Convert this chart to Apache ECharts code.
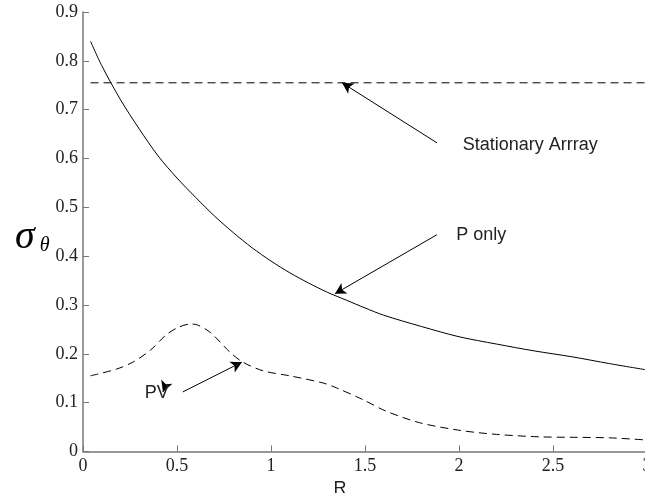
<!DOCTYPE html>
<html>
<head>
<meta charset="utf-8">
<script src="https://cdn.jsdelivr.net/npm/echarts@6/dist/echarts.min.js"></script>
<style>
  html, body { margin: 0; padding: 0; background: #fff; }
  #chart { width: 645px; height: 493px; }
</style>
</head>
<body>
<div id="chart"></div>
<script>
// values (x = R)
const pOnlyR = [0.04, 0.1, 0.2, 0.3, 0.4, 0.5, 0.6, 0.7, 0.8, 0.9, 1.0, 1.1, 1.2, 1.3, 1.4, 1.5, 1.6, 1.8, 2.0, 2.2, 2.4, 2.6, 2.8, 3.0]
const pOnlyVal = [0.84, 0.79, 0.72, 0.66, 0.605, 0.56, 0.52, 0.482, 0.448, 0.417, 0.39, 0.366, 0.345, 0.326, 0.31, 0.294, 0.279, 0.256, 0.235, 0.22, 0.206, 0.194, 0.18, 0.167]

const pvR = [0.04, 0.18, 0.27, 0.36, 0.44, 0.5, 0.57, 0.61, 0.68, 0.78, 0.85, 0.96, 1.1, 1.28, 1.35, 1.49, 1.61, 1.79, 2.01, 2.2, 2.43, 2.63, 2.8, 2.98]
const pvVal = [0.155, 0.169, 0.184, 0.208, 0.238, 0.253, 0.261, 0.259, 0.243, 0.204, 0.183, 0.165, 0.155, 0.14, 0.13, 0.106, 0.083, 0.059, 0.043, 0.035, 0.03, 0.029, 0.028, 0.024]

const stationaryR = [0.04, 3.0]
const stationaryVal = [0.755, 0.755]

const xTicks = [0, 0.5, 1, 1.5, 2, 2.5, 3]
const yTicks = [0, 0.1, 0.2, 0.3, 0.4, 0.5, 0.6, 0.7, 0.8, 0.9]

// annotation arrows [tail, tip] and labels, in data units
const arrows = [
    [[1.883, 0.632], [1.378, 0.755]],
    [[1.883, 0.444], [1.34, 0.323]],
    [[0.531, 0.122], [0.845, 0.183]],
    [[0.435, 0.132], [0.425, 0.122]]
]
const notes = [
    { text: 'Stationary Arrray', at: [2.02, 0.628] },
    { text: 'P only', at: [1.985, 0.444] },
    { text: 'PV', at: [0.329, 0.12] }
]

const zip = (xs, ys) => xs.map((x, i) => [x, ys[i]])

const chart = echarts.init(document.getElementById('chart'))
const axisFont = { fontFamily: 'Liberation Serif', fontSize: 18, color: '#222' }
const option = {
    animation: false,
    grid: { left: 83, top: 12, width: 564, height: 439.5, outerBoundsMode: 'none', containLabel: false },
    xAxis: {
        type: 'value',
        min: xTicks[0],
        max: xTicks[xTicks.length - 1],
        interval: 0.5,
        name: 'R',
        nameLocation: 'middle',
        nameGap: 22,
        nameTextStyle: { fontFamily: 'Liberation Sans', fontSize: 18, color: '#222', padding: [0, 50, 0, 0] },
        axisLine: { lineStyle: { color: '#777', width: 1.5 } },
        axisTick: { inside: true, length: 6, lineStyle: { color: '#777' } },
        axisLabel: Object.assign({ margin: 6, showMaxLabel: true }, axisFont),
        splitLine: { show: false }
    },
    yAxis: {
        type: 'value',
        min: yTicks[0],
        max: yTicks[yTicks.length - 1],
        interval: 0.1,
        name: '{s|σ}{t|θ}',
        nameLocation: 'middle',
        nameRotate: 0,
        nameGap: 28,
        nameTextStyle: {
            padding: [12, 0, 0, 0],
            rich: {
                s: { fontFamily: 'Liberation Serif', fontStyle: 'italic', fontSize: 40, color: '#000' },
                t: { fontFamily: 'Liberation Serif', fontStyle: 'italic', fontSize: 20, color: '#000', padding: [16, 0, 0, 5] }
            }
        },
        axisLine: { lineStyle: { color: '#777', width: 1.5 } },
        axisTick: { inside: true, length: 6, lineStyle: { color: '#777' } },
        axisLabel: Object.assign({ margin: 5 }, axisFont),
        splitLine: { show: false }
    },
    series: [
        {
            name: 'P only',
            type: 'line',
            data: zip(pOnlyR, pOnlyVal),
            smooth: 0.3,
            showSymbol: false,
            lineStyle: { color: '#000', width: 1 },
            markLine: {
                silent: true,
                symbol: ['none', 'arrow'],
                symbolSize: [9, 11],
                lineStyle: { color: '#000', width: 1, type: 'solid' },
                label: { show: false },
                data: arrows.map(a => [{ coord: a[0] }, { coord: a[1] }])
            },
            markPoint: {
                silent: true,
                symbol: 'circle',
                symbolSize: 0,
                label: {
                    show: true,
                    position: 'right',
                    distance: 0,
                    fontFamily: 'Liberation Sans',
                    fontSize: 18,
                    color: '#222',
                    formatter: p => p.name
                },
                data: notes.map(n => ({ name: n.text, coord: n.at }))
            }
        },
        {
            name: 'PV',
            type: 'line',
            data: zip(pvR, pvVal),
            smooth: 0.3,
            showSymbol: false,
            lineStyle: { color: '#000', width: 1, type: [8, 5] }
        },
        {
            name: 'Stationary Arrray',
            type: 'line',
            data: zip(stationaryR, stationaryVal),
            showSymbol: false,
            lineStyle: { color: '#000', width: 1, type: [8, 5] }
        }
    ]
}
chart.setOption(option)
window.addEventListener('resize', function () {
    chart.resize()
})
</script>
</body>
</html>
